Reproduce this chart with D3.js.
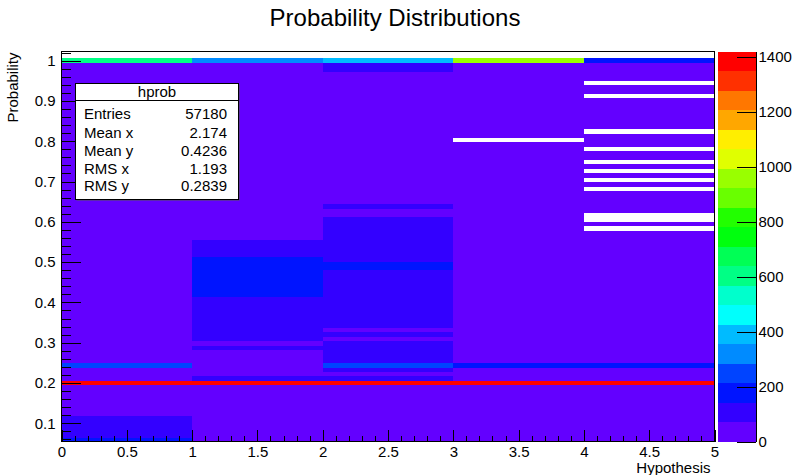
<!DOCTYPE html>
<html>
<head>
<meta charset="utf-8">
<script src="https://cdn.jsdelivr.net/npm/d3@7"></script>
<style>
body { margin: 0; background: #fff; }
text { font-family: "Liberation Sans", Arial, Helvetica, sans-serif; fill: #000; }
</style>
</head>
<body>
<div id="chart-area"></div>
<script>
// x bins (hypotheses)
var xEdges = [0, 1, 2, 3, 4, 5];

// y bins: centre of the top bin, bin width (bins run downwards)
var yTopBinCentre = 1.0219;
var yBinWidth = 0.01096;

// bin contents per hypothesis, top to bottom, as [number of bins, entries]
var hyp0 = [[2,0],[1,605],[68,24],[1,262],[3,24],[1,1398],[7,24],[5,96],[1,171]];
var hyp1 = [[2,0],[1,318],[40,19],[4,104],[9,176],[10,112],[1,41],[1,88],[6,37],[1,93],[1,1420],[13,22]];
var hyp2 = [[2,0],[1,397],[2,84],[30,15],[1,79],[2,52],[10,118],[2,189],[13,109],[1,63],[1,86],[1,60],[5,121],[1,276],[1,97],[1,58],[1,102],[1,1387],[13,18]];
var hyp3 = [[2,0],[1,951],[17,12],[1,0],[50,16],[1,205],[3,14],[1,1405],[13,11]];
var hyp4 = [[2,0],[1,187],[4,9],[1,0],[2,8],[1,0],[7,10],[1,0],[3,7],[1,0],[2,9],[1,0],[1,6],[1,0],[1,8],[1,0],[1,7],[1,0],[5,9],[2,0],[1,11],[1,0],[30,13],[1,201],[3,12],[1,1412],[13,10]];

// axis ticks
var xMajor = [0, 0.5, 1, 1.5, 2, 2.5, 3, 3.5, 4, 4.5, 5];
var yMajor = [0.1, 0.2, 0.3, 0.4, 0.5, 0.6, 0.7, 0.8, 0.9, 1];
var zMajor = [0, 200, 400, 600, 800, 1000, 1200, 1400];

// stats box
var statTitle = "hprob";
var statNames = ["Entries", "Mean x", "Mean y", "RMS x", "RMS y"];
var statValues = ["57180", "2.174", "0.4236", "1.193", "0.2839"];

const svgWidth = 793;
const svgHeight = 475;
const frame = {left: 61.5, right: 714.5, top: 51.5, bottom: 441.5};
const nContours = 20;

var columns = [hyp0, hyp1, hyp2, hyp3, hyp4];

var cells = [];
columns.forEach(function(runs, c){
	var k = 0;
	runs.forEach(function(run){
		for(let i = 0; i < run[0]; i++){
			cells.push({x0: xEdges[c], x1: xEdges[c+1], yc: yTopBinCentre - k * yBinWidth, n: run[1]});
			k++;
		}
	});
});

var zMax = d3.max(cells, d => d.n);

// ROOT "pretty" palette, 50 colours violet->red, picked for 20 contours
function levelColor(level){
	var idx = Math.floor((level + 0.99) * 50 / nContours);
	var hue = 280 - (idx + 1) * 5.6;
	return d3.hsl(Math.max(hue, 0), 1, 0.5).formatHex();
}
function cellColor(n){
	var level = Math.min(Math.floor(0.01 + n * nContours / zMax), nContours - 1);
	return levelColor(level);
}

var canvas = d3.select("#chart-area").append("svg")
	.attr("width", svgWidth)
	.attr("height", svgHeight);

var xScale = d3.scaleLinear().domain([0, 5]).range([frame.left, frame.right]);
var yScale = d3.scaleLinear().domain([0.0548, 1.0228]).range([frame.bottom, frame.top]);
var zScale = d3.scaleLinear().domain([0, zMax]).range([frame.bottom, frame.top]);

canvas.append("clipPath").attr("id", "frameclip")
	.append("rect")
	.attr("x", frame.left).attr("y", frame.top)
	.attr("width", frame.right - frame.left).attr("height", frame.bottom - frame.top);

canvas.append("g")
	.attr("clip-path", "url(#frameclip)")
	.selectAll("rect")
	.data(cells.filter(d => d.n > 0))
	.enter()
	.append("rect")
	.attr("x", d => xScale(d.x0))
	.attr("width", d => xScale(d.x1) - xScale(d.x0))
	.attr("y", d => yScale(d.yc + yBinWidth / 2))
	.attr("height", d => yScale(d.yc - yBinWidth / 2) - yScale(d.yc + yBinWidth / 2))
	.attr("fill", d => cellColor(d.n))
	.attr("shape-rendering", "crispEdges");

// x axis (ticks inside the frame)
var xMinor = d3.range(0, 5.001, 0.1);
canvas.append("g")
	.attr("transform", "translate(0," + frame.bottom + ")")
	.call(d3.axisBottom(xScale).tickValues(xMinor).tickSize(-5.8).tickFormat(""))
	.call(g => g.select(".domain").remove());
var xAxisGroup = canvas.append("g")
	.attr("class", "x axis")
	.attr("transform", "translate(0," + frame.bottom + ")")
	.call(d3.axisBottom(xScale).tickValues(xMajor).tickSize(-11.7).tickPadding(4.5).tickFormat(d3.format("~g")))
	.call(g => g.select(".domain").remove());

// y axis
var yMinor = d3.range(0.06, 1.03, 0.02);
canvas.append("g")
	.attr("transform", "translate(" + frame.left + ",0)")
	.call(d3.axisLeft(yScale).tickValues(yMinor).tickSize(-9.8).tickFormat(""))
	.call(g => g.select(".domain").remove());
var yAxisGroup = canvas.append("g")
	.attr("class", "y axis")
	.attr("transform", "translate(" + frame.left + ",0)")
	.call(d3.axisLeft(yScale).tickValues(yMajor).tickSize(-19.6).tickPadding(6).tickFormat(d3.format("~g")))
	.call(g => g.select(".domain").remove());

canvas.selectAll(".tick line").attr("stroke", "#000").attr("shape-rendering", "crispEdges");
canvas.selectAll(".axis text").style("font-size", "15px");

canvas.append("rect")
	.attr("x", frame.left).attr("y", frame.top)
	.attr("width", frame.right - frame.left).attr("height", frame.bottom - frame.top)
	.attr("fill", "none").attr("stroke", "#000")
	.attr("shape-rendering", "crispEdges");

// palette
var pal = {left: 718, right: 755.5};
var bands = d3.range(nContours);
canvas.append("g")
	.selectAll("rect")
	.data(bands)
	.enter()
	.append("rect")
	.attr("x", pal.left)
	.attr("width", pal.right - pal.left)
	.attr("y", d => zScale((d + 1) * zMax / nContours))
	.attr("height", d => zScale(d * zMax / nContours) - zScale((d + 1) * zMax / nContours))
	.attr("fill", d => levelColor(d))
	.attr("shape-rendering", "crispEdges");

var zAxisGroup = canvas.append("g")
	.attr("class", "z axis")
	.attr("transform", "translate(" + pal.right + ",0)")
	.call(d3.axisRight(zScale).tickValues(zMajor).tickSize(-19).tickPadding(3).tickSizeOuter(0).tickFormat(d3.format("d")));
zAxisGroup.selectAll("line").attr("stroke", "#000").attr("shape-rendering", "crispEdges");
zAxisGroup.select(".domain").attr("stroke", "#000").attr("shape-rendering", "crispEdges");
zAxisGroup.selectAll("text").style("font-size", "15px");

// titles
canvas.append("text")
	.attr("x", 395).attr("y", 26)
	.attr("text-anchor", "middle")
	.style("font-size", "24px")
	.text("Probability Distributions");

canvas.append("text")
	.attr("x", frame.right - 4).attr("y", 473)
	.attr("text-anchor", "end")
	.style("font-size", "15px")
	.text("Hypothesis");

canvas.append("text")
	.attr("transform", "translate(18," + (frame.top + 1) + ") rotate(-90)")
	.attr("text-anchor", "end")
	.style("font-size", "15px")
	.text("Probability");

// stats box
var box = {left: 75.5, right: 238.5, top: 83.5, sep: 100.5, bottom: 199.5};
var stats = canvas.append("g");
stats.append("rect")
	.attr("x", box.left + 1).attr("y", box.top + 1)
	.attr("width", box.right - box.left).attr("height", box.bottom - box.top)
	.attr("fill", "#555");
stats.append("rect")
	.attr("x", box.left).attr("y", box.top)
	.attr("width", box.right - box.left).attr("height", box.bottom - box.top)
	.attr("fill", "#fff").attr("stroke", "#000")
	.attr("shape-rendering", "crispEdges");
stats.append("line")
	.attr("x1", box.left).attr("x2", box.right)
	.attr("y1", box.sep).attr("y2", box.sep)
	.attr("stroke", "#000").attr("shape-rendering", "crispEdges");
stats.append("text")
	.attr("x", (box.left + box.right) / 2).attr("y", 97)
	.attr("text-anchor", "middle")
	.style("font-size", "15px")
	.text(statTitle);
var rowBase = [118.5, 138, 155.5, 174, 191];
statNames.forEach(function(name, i){
	stats.append("text")
		.attr("x", 84).attr("y", rowBase[i])
		.style("font-size", "15px")
		.text(name);
	stats.append("text")
		.attr("x", 227).attr("y", rowBase[i])
		.attr("text-anchor", "end")
		.style("font-size", "15px")
		.text(statValues[i]);
});
</script>
</body>
</html>
